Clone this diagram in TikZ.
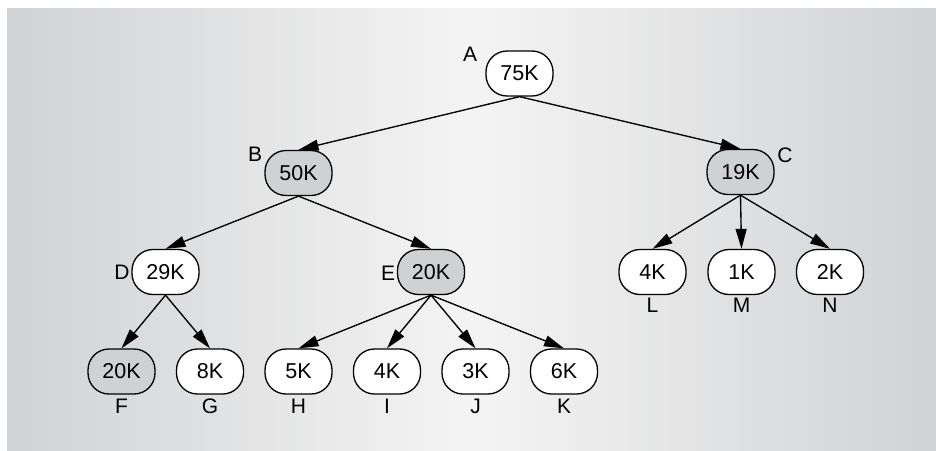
\documentclass[tikz,border=0pt]{standalone}
\usepackage{fontspec}
\setmainfont{Liberation Sans}
\usetikzlibrary{arrows.meta}
\definecolor{panelside}{HTML}{D1D2D4}
\definecolor{panelmid}{HTML}{F4F4F4}
\definecolor{nodegray}{HTML}{D0D1D3}
\tikzset{
  box/.style={draw=black, line width=1.3pt, rounded corners=21pt, minimum width=67pt,
    minimum height=45pt, inner sep=0pt, fill=white, font=\fontsize{21.5}{23}\selectfont},
  grey/.style={box, fill=nodegray},
  lbl/.style={inner sep=0pt, font=\fontsize{21}{23}\selectfont},
  edge/.style={line width=1.35pt, -{Triangle[length=20pt,width=11pt]}}
}
\begin{document}
\begin{tikzpicture}[x=1pt,y=-1pt]
\useasboundingbox (0,0) rectangle (936,450);
\fill[left color=panelside, right color=panelside, middle color=panelmid] (7,8) rectangle (936,450);
% nodes
\node[box]  (A) at (519.5,73.5) {75K};
\node[grey] (B) at (298.5,173) {50K};
\node[grey] (C) at (740.5,172) {19K};
\node[box]  (D) at (165.5,272) {29K};
\node[grey] (E) at (431,272) {20K};
\node[box]  (L) at (652.5,272) {4K};
\node[box]  (M) at (741.5,272) {1K};
\node[box]  (N) at (830,272) {2K};
\node[grey] (F) at (121.5,371.5) {20K};
\node[box]  (G) at (210,371.5) {8K};
\node[box]  (H) at (298.5,371.5) {5K};
\node[box]  (I) at (387,371.5) {4K};
\node[box]  (J) at (475.5,371.5) {3K};
\node[box]  (K) at (564,371.5) {6K};
% labels
\node[lbl] (lA) at (470,54) {A};
\node[lbl] (lB) at (255,154) {B};
\node[lbl] (lC) at (785,155) {C};
\node[lbl] (lD) at (122,272) {D};
\node[lbl] (lE) at (388,273) {E};
\node[lbl] (lL) at (652.5,305) {L};
\node[lbl] (lM) at (741.5,305) {M};
\node[lbl] (lN) at (830,305) {N};
\node[lbl] (lF) at (121.5,406) {F};
\node[lbl] (lG) at (210,406) {G};
\node[lbl] (lH) at (298.5,406) {H};
\node[lbl] (lI) at (387,406) {I};
\node[lbl] (lJ) at (475.5,406) {J};
\node[lbl] (lK) at (564,406) {K};
% edges
\foreach \p/\c in {A/B,A/C,B/D,B/E,D/F,D/G,E/H,E/I,E/J,E/K,C/L,C/M,C/N}
  \draw[edge] (\p.south) -- (\c.north);
\end{tikzpicture}
\end{document}
